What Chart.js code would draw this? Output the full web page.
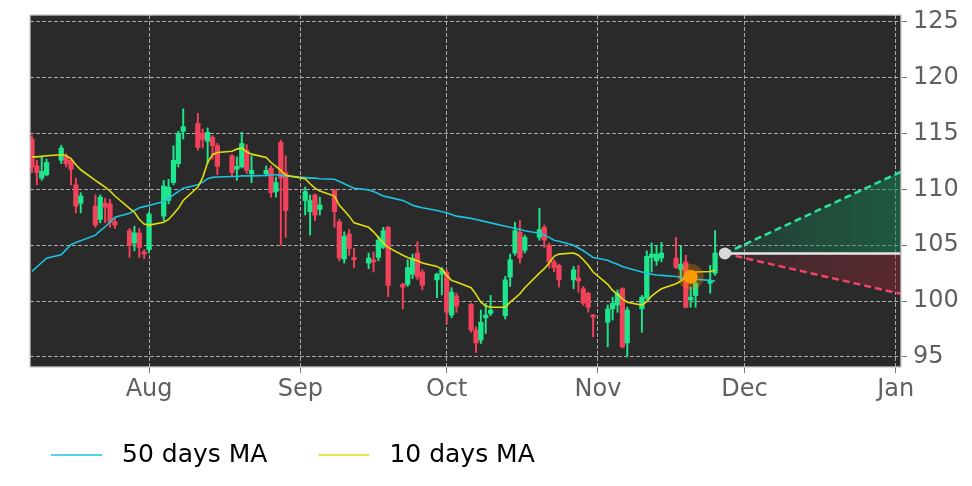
<!DOCTYPE html>
<html>
<head>
<meta charset="utf-8">
<title>Price chart</title>
<script src="https://cdn.jsdelivr.net/npm/chart.js@4.4.1/dist/chart.umd.min.js"></script>
<style>
  body { margin: 0; background: #ffffff; }
  #wrap { width: 972px; height: 486px; }
</style>
</head>
<body>
<div id="wrap"><canvas id="priceChart" width="972" height="486"></canvas></div>
<script>
// trading days (2025), by month
const julDays = [8,9,10,11,14,15,16,17,18,21,22,23,24,25,28,29,30,31];
const augDays = [1,4,5,6,7,8,11,12,13,14,15,18,19,20,21,22,25,26,27,28,29];
const sepDays = [2,3,4,5,8,9,10,11,12,15,16,17,18,19,22,23,24,25,26,29,30];
const octDays = [1,2,3,6,7,8,9,10,13,14,15,16,17,20,21,22,23,24,27,28,29,30,31];
const novDays = [3,4,5,6,7,10,11,12,13,14,17,18,19,20,21,24,25];

const openPrices = [
  114.5,112.1,111.0,111.3,112.6,112.9,112.6,110.4,108.75,108.5,107.3,108.75,108.7,107.1,106.3,105.2,106.1,104.4,
  104.6,107.6,109.0,110.6,112.3,115.2,115.9,115.0,114.3,114.65,113.9,113.0,111.8,112.0,113.5,111.4,111.4,111.9,109.8,114.2,111.5,
  109.0,108.0,109.5,108.2,109.9,107.1,103.75,106.0,103.9,103.4,103.7,103.9,104.8,106.6,101.5,101.5,102.4,104.3,102.6,101.9,102.4,
  102.6,98.75,100.45,99.7,97.4,96.5,98.5,98.9,98.7,102.15,104.3,106.15,104.55,105.7,106.6,105.0,103.5,103.2,101.9,102.05,101.1,100.7,98.75,
  98.1,99.3,99.65,101.1,96.25,99.3,100.25,103.9,103.6,103.85,103.85,102.8,103.5,100.1,100.5,101.6,102.5
];
const highPrices = [
  114.8,112.6,112.9,112.7,113.95,113.2,112.8,111.0,109.7,109.5,109.5,109.2,109.1,107.4,106.5,106.7,106.5,104.6,
  108.0,110.8,110.9,113.9,115.2,117.2,116.8,115.4,115.5,114.8,114.1,113.1,112.9,115.1,114.0,113.0,112.1,112.1,111.1,114.4,113.0,
  110.2,109.5,109.6,109.3,110.0,107.3,106.2,106.4,104.7,104.3,104.4,105.8,106.6,106.7,101.6,103.7,104.2,105.3,102.8,102.5,103.0,
  102.8,101.2,100.7,99.8,97.7,99.2,99.8,100.5,102.2,104.2,107.05,107.2,105.9,108.3,106.8,105.2,103.7,103.3,103.1,103.2,101.3,100.8,98.8,
  99.65,100.35,101.0,101.2,99.45,100.5,104.5,105.2,105.0,105.25,105.7,104.9,104.1,101.25,102.3,103.2,106.3
];
const lowPrices = [
  111.5,110.4,110.8,111.2,112.3,112.0,110.4,107.9,107.9,106.6,107.0,107.0,106.6,106.5,103.9,104.5,103.9,103.8,
  104.3,107.2,108.7,110.4,112.0,114.5,113.5,113.7,112.3,112.7,111.3,111.2,110.8,111.9,111.4,110.6,111.2,109.3,109.3,105.0,105.7,
  107.7,105.9,107.2,107.7,106.6,103.6,103.4,104.1,103.0,102.9,102.6,103.6,104.7,100.4,99.3,101.3,102.0,101.9,101.0,100.3,100.55,
  98.0,98.5,99.0,97.2,95.4,96.2,97.1,98.7,98.4,101.3,104.1,103.4,104.3,105.45,104.8,102.95,102.6,101.25,101.1,100.8,99.6,99.0,96.8,
  95.9,98.3,99.0,95.8,95.0,97.2,100.1,102.6,103.2,103.5,102.9,101.9,99.4,99.45,99.45,100.7,102.3
];
const closePrices = [
  112.0,111.5,111.6,112.4,113.7,112.3,111.8,108.5,109.4,106.8,109.3,108.4,107.05,106.8,105.0,106.1,104.8,104.2,
  107.8,110.3,110.2,112.6,115.0,115.6,113.75,114.45,115.1,113.9,112.05,111.5,112.05,114.1,111.7,111.7,111.7,109.7,110.6,111.0,108.1,
  109.8,109.0,107.7,108.6,108.0,103.85,105.8,104.7,103.7,103.85,103.5,105.45,106.3,101.4,101.25,103.0,103.85,102.15,101.4,102.4,102.8,
  99.0,100.8,99.55,97.4,96.25,98.1,98.75,99.2,101.9,103.7,106.3,103.85,105.7,106.4,105.45,103.5,103.0,101.9,102.8,101.8,99.8,99.45,98.55,
  99.3,99.8,100.7,95.9,99.2,100.35,104.0,104.2,104.2,104.3,103.0,103.3,99.45,100.35,101.6,101.8,104.3
];

const ma50 = [
  102.65,103.05,103.45,103.84,104.15,104.6,105.05,105.25,105.4,105.9,106.3,106.65,107.05,107.5,107.86,108.1,108.35,108.45,
  108.55,108.9,109.2,109.5,109.8,110.1,110.4,110.65,110.95,111.07,111.1,111.15,111.15,111.2,111.2,111.2,111.25,111.3,111.3,111.25,111.2,
  111.05,111.0,111.0,110.95,110.9,110.7,110.5,110.3,110.1,109.95,109.8,109.6,109.4,109.3,109.0,108.8,108.57,108.45,108.35,108.1,108.0,
  107.9,107.75,107.6,107.4,107.3,107.2,107.1,107.0,106.7,106.6,106.5,106.4,106.3,106.07,105.9,105.7,105.45,105.35,105.0,104.75,104.5,104.2,103.9,
  103.66,103.45,103.3,103.1,102.95,102.6,102.5,102.4,102.33,102.3,102.2,102.14,102.05,102.0,101.95,101.85,101.8
];
const ma10 = [
  112.9,112.9,112.95,113.0,113.1,113.0,112.75,112.2,111.75,110.8,110.5,110.2,109.85,109.4,108.3,107.95,107.3,106.9,
  106.8,107.05,107.3,107.8,108.3,109.0,110.2,111.07,112.4,113.1,113.3,113.4,113.6,113.7,113.35,113.15,112.86,112.4,112.05,111.7,111.25,
  110.95,110.5,110.1,109.85,109.4,108.57,108.1,107.6,107.0,106.6,106.2,105.7,105.2,104.8,104.1,103.9,103.75,103.6,103.4,103.1,102.85,
  102.3,101.85,101.7,101.2,100.6,99.9,99.55,99.45,99.45,99.9,100.27,100.65,101.2,102.5,102.9,103.4,104.0,104.2,104.3,104.1,103.7,103.2,102.6,
  101.5,100.95,100.6,100.2,99.9,99.64,99.95,100.45,100.8,101.1,101.55,101.8,102.1,102.4,102.6,102.65,102.75
];

// projection cone from the last price
const forecastDates = [[2025, 10, 27], [2026, 0, 2]];
const forecastUpper = [104.25, 111.55];
const forecastMid = [104.25, 104.25];
const forecastLower = [104.25, 100.65];

// crossover marker
const signalDate = [2025, 10, 20];
const signalValue = 102.17;

const monthTicks = [[2025, 7, 1], [2025, 8, 1], [2025, 9, 1], [2025, 10, 1], [2025, 11, 1], [2026, 0, 1]];
const monthLabels = ["Aug", "Sep", "Oct", "Nov", "Dec", "Jan"];
const yTicks = [95, 100, 105, 110, 115, 120, 125];

const ORIGIN = Date.UTC(2025, 7, 1);
function dayOf(y, m, d) {
  return (Date.UTC(y, m, d) - ORIGIN) / 86400000;
}

const tradeX = [
  ...julDays.map(d => dayOf(2025, 6, d)),
  ...augDays.map(d => dayOf(2025, 7, d)),
  ...sepDays.map(d => dayOf(2025, 8, d)),
  ...octDays.map(d => dayOf(2025, 9, d)),
  ...novDays.map(d => dayOf(2025, 10, d))
];
const forecastX = forecastDates.map(d => dayOf(...d));

const upColor = "#1ee68c";
const downColor = "#f2415a";
const candleColors = openPrices.map((o, i) => closePrices[i] >= o ? upColor : downColor);

const gridColor = "#a9a9a9";
const tickColor = "#777777";
const labelColor = "#606060";

function series(values) {
  return tradeX.map((x, i) => ({ x: x, y: values[i] }));
}

function coneGradient(from, to) {
  return ctx => {
    const chart = ctx.chart;
    const area = chart.chartArea;
    if (!area || !chart.scales.x) return to;
    const x0 = chart.scales.x.getPixelForValue(forecastX[0]);
    const g = chart.ctx.createLinearGradient(x0, 0, area.right, 0);
    g.addColorStop(0, from);
    g.addColorStop(1, to);
    return g;
  };
}

// no extra room for the outer tick labels: the plot box is fixed
function noLabelPadding(axis) {
  axis.paddingTop = 0;
  axis.paddingBottom = 0;
  axis.paddingLeft = 0;
  axis.paddingRight = 0;
}

const plotFrame = {
  id: "plotFrame",
  beforeDraw(chart) {
    const { ctx, chartArea: a } = chart;
    ctx.save();
    ctx.fillStyle = "#2a2a2a";
    ctx.fillRect(a.left, a.top, a.width, a.height);
    ctx.restore();
  },
  afterDatasetsDraw(chart) {
    const { ctx, chartArea: a } = chart;
    ctx.save();
    ctx.strokeStyle = "#cccccc";
    ctx.lineWidth = 1.3;
    ctx.strokeRect(a.left, a.top, a.width, a.height);
    ctx.restore();
  }
};

const maLegend = {
  id: "maLegend",
  afterDraw(chart) {
    const ctx = chart.ctx;
    const y = 455;
    let x = 51;
    ctx.save();
    ctx.font = "25px 'DejaVu Sans'";
    ctx.textBaseline = "middle";
    chart.data.datasets.filter(d => d.inLegend).forEach(d => {
      ctx.strokeStyle = d.borderColor;
      ctx.lineWidth = 1.5;
      ctx.beginPath();
      ctx.moveTo(x, y);
      ctx.lineTo(x + 51, y);
      ctx.stroke();
      x += 51 + 20;
      ctx.fillStyle = "#000000";
      ctx.fillText(d.label, x, y);
      x += ctx.measureText(d.label).width + 51;
    });
    ctx.restore();
  }
};

Chart.defaults.font.family = "'DejaVu Sans', sans-serif";

new Chart(document.getElementById("priceChart"), {
  type: "bar",
  data: {
    datasets: [
      {
        label: "wicks",
        data: tradeX.map((x, i) => ({ x: x, y: [lowPrices[i], highPrices[i]] })),
        backgroundColor: candleColors,
        grouped: false,
        barPercentage: 1,
        categoryPercentage: 1,
        maxBarThickness: 1.3,
        order: 6
      },
      {
        label: "bodies",
        data: tradeX.map((x, i) => ({ x: x, y: [openPrices[i], closePrices[i]] })),
        backgroundColor: candleColors,
        grouped: false,
        barPercentage: 1,
        categoryPercentage: 1,
        maxBarThickness: 4.6,
        order: 5
      },
      {
        type: "line",
        label: "50 days MA",
        inLegend: true,
        data: series(ma50),
        borderColor: "#1cc3e0",
        borderWidth: 1.6,
        pointRadius: 0,
        tension: 0,
        order: 4
      },
      {
        type: "line",
        label: "10 days MA",
        inLegend: true,
        data: series(ma10),
        borderColor: "#dede10",
        borderWidth: 1.6,
        pointRadius: 0,
        tension: 0,
        order: 3
      },
      {
        type: "line",
        label: "last",
        data: forecastX.map((x, i) => ({ x: x, y: forecastMid[i] })),
        borderColor: "#e6e6e6",
        borderWidth: 2.5,
        pointRadius: 0,
        order: 2
      },
      {
        type: "line",
        label: "upper",
        data: forecastX.map((x, i) => ({ x: x, y: forecastUpper[i] })),
        borderColor: "#2de39a",
        borderWidth: 2.5,
        borderDash: [7, 4],
        pointRadius: 0,
        fill: "-1",
        backgroundColor: coneGradient("rgba(20,129,84,0.2)", "rgba(20,129,84,0.55)"),
        order: 2
      },
      {
        type: "line",
        label: "lower",
        data: forecastX.map((x, i) => ({ x: x, y: forecastLower[i] })),
        borderColor: "#f04468",
        borderWidth: 2.5,
        borderDash: [7, 4],
        pointRadius: 0,
        fill: "-2",
        backgroundColor: coneGradient("rgba(138,38,54,0.15)", "rgba(138,38,54,0.5)"),
        order: 2
      },
      {
        type: "line",
        label: "signal halo",
        data: [{ x: dayOf(...signalDate), y: signalValue }],
        showLine: false,
        pointRadius: 13,
        pointBorderWidth: 0,
        pointBackgroundColor: "rgba(255,140,0,0.3)",
        order: 1
      },
      {
        type: "line",
        label: "signal",
        data: [{ x: dayOf(...signalDate), y: signalValue }],
        showLine: false,
        pointRadius: 7,
        pointBorderWidth: 0,
        pointBackgroundColor: "#ff9a00",
        order: 0
      },
      {
        type: "line",
        label: "last price",
        data: [{ x: forecastX[0], y: forecastMid[0] }],
        showLine: false,
        pointRadius: 6,
        pointBorderWidth: 0,
        pointBackgroundColor: "#d9d9d9",
        order: 0
      }
    ]
  },
  options: {
    responsive: false,
    animation: false,
    events: [],
    devicePixelRatio: 1,
    layout: { padding: { left: 30, top: 15, right: 0, bottom: 0 } },
    plugins: {
      legend: { display: false },
      tooltip: { enabled: false }
    },
    scales: {
      x: {
        type: "linear",
        min: dayOf(2025, 6, 8) - 0.4,
        max: dayOf(2026, 0, 2) + 0.1,
        offset: false,
        afterBuildTicks: axis => { axis.ticks = monthTicks.map(d => ({ value: dayOf(...d) })); },
        afterFit: axis => { axis.height = 119; noLabelPadding(axis); },
        grid: { color: gridColor, lineWidth: 1, offset: false, tickLength: 6, tickColor: tickColor },
        border: { display: false, dash: [4, 2] },
        ticks: {
          autoSkip: false,
          maxRotation: 0,
          padding: 2,
          color: labelColor,
          font: { size: 24 },
          callback: (value, index) => monthLabels[index]
        }
      },
      y: {
        position: "right",
        min: 94.1,
        max: 125.6,
        afterBuildTicks: axis => { axis.ticks = yTicks.map(v => ({ value: v })); },
        afterFit: axis => { axis.width = 71; noLabelPadding(axis); },
        grid: { color: gridColor, lineWidth: 1, tickLength: 6, tickColor: tickColor },
        border: { display: false, dash: [4, 2] },
        ticks: { padding: 6, color: labelColor, font: { size: 24 } }
      }
    }
  },
  plugins: [plotFrame, maLegend]
});
</script>
</body>
</html>
